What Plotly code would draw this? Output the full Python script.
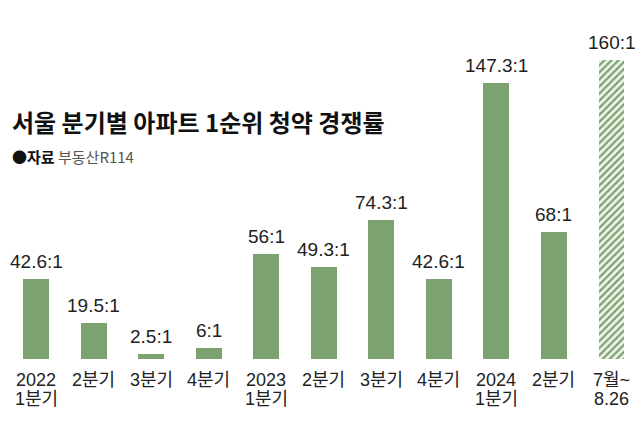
import plotly.graph_objects as go

# 서울 분기별 아파트 1순위 청약 경쟁률 (자료: 부동산R114)
line1 = ["2022", "2분기", "3분기", "4분기", "2023", "2분기", "3분기", "4분기", "2024", "2분기", "7월~"]
line2 = ["1분기", "", "", "", "1분기", "", "", "", "1분기", "", "8.26"]
ratios = [42.6, 19.5, 2.5, 6, 56, 49.3, 74.3, 42.6, 147.3, 68, 160]
ratio_labels = ["42.6:1", "19.5:1", "2.5:1", "6:1", "56:1", "49.3:1", "74.3:1", "42.6:1", "147.3:1", "68:1", "160:1"]

GREEN = "#7ba26f"
TEXT = "#222222"
NUM_FONT = "Liberation Sans, Noto Sans CJK KR, sans-serif"
KR_FONT = "Noto Sans CJK KR, sans-serif"

xs = list(range(len(ratios)))
solid = xs[:-1]

fig = go.Figure()
fig.add_trace(go.Bar(
    x=solid, y=ratios[:-1], width=0.45,
    marker=dict(color=GREEN, line=dict(width=0)),
    hoverinfo="skip",
))
fig.add_trace(go.Bar(
    x=[xs[-1]], y=[ratios[-1]], width=0.45,
    marker=dict(
        color="#eef4ea",
        line=dict(width=0),
        pattern=dict(shape="/", fgcolor=GREEN, bgcolor="#eef4ea", size=5, solidity=0.45, fillmode="replace"),
    ),
    hoverinfo="skip",
))

annotations = []
for x, v, lab in zip(xs, ratios, ratio_labels):
    annotations.append(dict(
        x=x, y=v, xref="x", yref="y", text=lab, showarrow=False,
        yanchor="bottom", yshift=5, font=dict(family=NUM_FONT, size=19, color=TEXT),
    ))
for x, a, b in zip(xs, line1, line2):
    annotations.append(dict(
        x=x, y=0, xref="x", yref="paper", text=a, showarrow=False,
        yanchor="top", yshift=-9, font=dict(family=NUM_FONT, size=18, color=TEXT),
    ))
    if b:
        annotations.append(dict(
            x=x, y=0, xref="x", yref="paper", text=b, showarrow=False,
            yanchor="top", yshift=-28, font=dict(family=NUM_FONT, size=18, color=TEXT),
        ))

# header texts, positioned in pixels from the top of the plot area
PLOT_H = 359
annotations.append(dict(
    x=10 / 640, y=(PLOT_H - 121) / PLOT_H, xref="paper", yref="paper",
    text="<b>서울 분기별 아파트 1순위 청약 경쟁률</b>",
    showarrow=False, xanchor="left", yanchor="middle",
    font=dict(family=KR_FONT, size=24, color="#111111"),
))
annotations.append(dict(
    x=10 / 640, y=(PLOT_H - 157) / PLOT_H, xref="paper", yref="paper",
    text="<b>●자료</b> <span style='color:#555555'>부동산R114</span>",
    showarrow=False, xanchor="left", yanchor="middle",
    font=dict(family=KR_FONT, size=15, color="#111111"),
))

fig.update_layout(
    width=640, height=425,
    margin=dict(l=0, r=0, t=0, b=66),
    paper_bgcolor="white", plot_bgcolor="white",
    showlegend=False, bargap=0,
    xaxis=dict(range=[-0.6255, 10.495], visible=False, fixedrange=True),
    yaxis=dict(range=[0, 191.8], visible=False, fixedrange=True),
    annotations=annotations,
)

fig.write_html(
    "out.html",
    config={"displayModeBar": False},
    post_script="document.body.style.margin='0';",
)
